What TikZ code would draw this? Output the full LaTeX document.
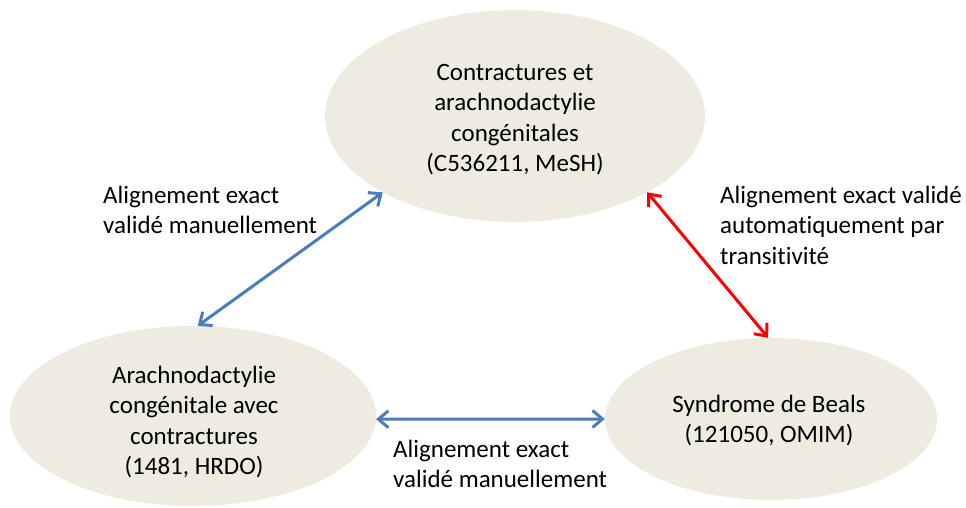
\documentclass[tikz,border=0pt]{standalone}
\usepackage{fontspec}
\setmainfont{Carlito}[Ligatures=NoCommon]
\usetikzlibrary{shapes.geometric,arrows.meta}
\definecolor{shapefill}{HTML}{EEECE1}
\definecolor{linkblue}{HTML}{4A7EBB}
\definecolor{linkred}{HTML}{FF0000}
\begin{document}
\begin{tikzpicture}[x=1pt,y=-1pt,
  concept/.style={ellipse, fill=shapefill, draw=none, inner sep=0pt},
  txt/.style={font=\fontsize{25}{30.5}\selectfont, inner sep=0pt, text=black},
  link/.style={line width=3pt,
    {Straight Barb[length=10pt,width=17pt]}-{Straight Barb[length=10pt,width=17pt]}},
]
\useasboundingbox (0,0) rectangle (966,507);

% concepts
\node[concept, minimum width=380pt, minimum height=212pt] (T) at (515,116) {};
\node[concept, minimum width=366pt, minimum height=180pt] (L) at (193,416) {};
\node[concept, minimum width=332pt, minimum height=162pt] (R) at (771,419) {};

\node[txt, align=center, anchor=north] (Ttext) at (515,58.65)
  {\strut Contractures et\\arachnodactylie\\congénitales\\(C536211, MeSH)};
\node[txt, align=center, anchor=north] (Ltext) at (194,361.65)
  {\strut Arachnodactylie\\congénitale avec\\contractures\\(1481, HRDO)};
\node[txt, align=center, anchor=north] (Rtext) at (769,390.65)
  {\strut Syndrome de Beals\\(121050, OMIM)};

% alignments
\draw[link, linkblue] (T.210) -- (L.87);
\draw[link, linkblue] (L.-1) -- (R.180);
\draw[link, linkred] (T.330) -- (R.92);

% alignment labels
\node[txt, align=left, anchor=north west] (labTL) at (103,181.65)
  {\strut Alignement exact\\validé manuellement};
\node[txt, align=left, anchor=north west] (labB) at (393,435.65)
  {\strut Alignement exact\\validé manuellement};
\node[txt, align=left, anchor=north west] (labR) at (720,181.65)
  {\strut Alignement exact validé\\automatiquement par\\transitivité};
\end{tikzpicture}
\end{document}
